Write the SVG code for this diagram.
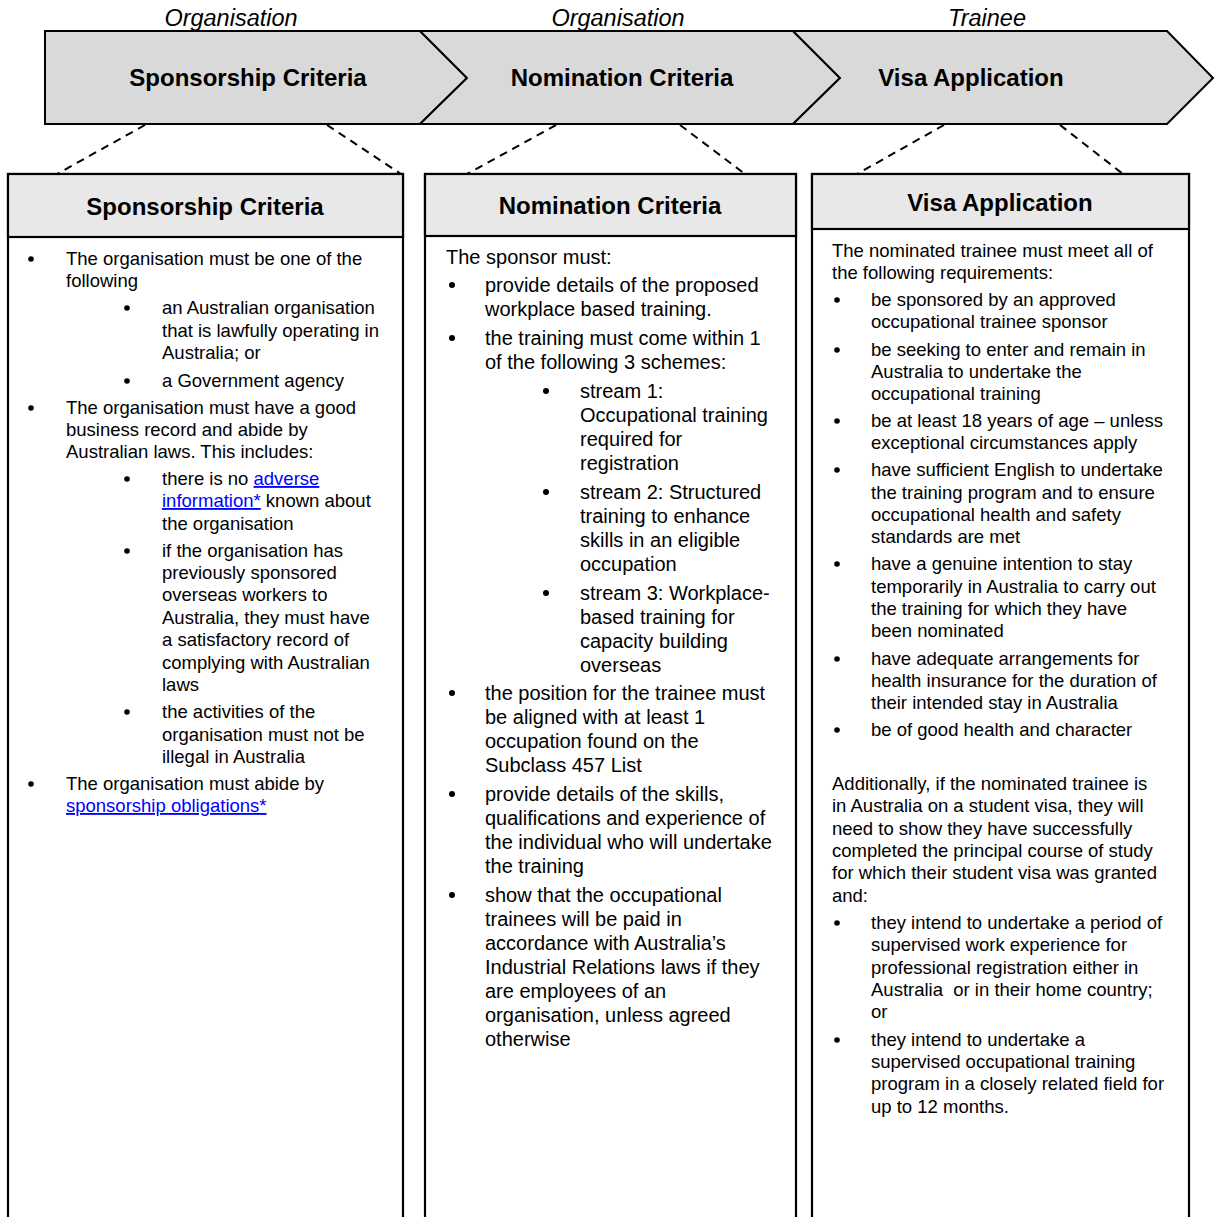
<svg xmlns="http://www.w3.org/2000/svg" width="1215" height="1217" viewBox="0 0 1215 1217">
<style>
.chev{fill:#d9d9d9;stroke:#000;stroke-width:2;stroke-linejoin:miter}
.box{fill:#fff;stroke:#000;stroke-width:2.2}
.hdr{fill:#e8e8e8;stroke:#000;stroke-width:2.2}
.role{font-family:"Liberation Sans",Arial,sans-serif;font-style:italic;font-size:23.5px;fill:#000;text-anchor:middle}
.title{font-family:"Liberation Sans",Arial,sans-serif;font-weight:bold;font-size:24px;fill:#000;text-anchor:middle}
.t1{font-family:"Liberation Sans",Arial,sans-serif;font-size:18.5px;fill:#000}
.t2{font-family:"Liberation Sans",Arial,sans-serif;font-size:20px;fill:#000}
.lk{fill:#0000ff;text-decoration:underline}
.dash{fill:none;stroke:#000;stroke-width:2;stroke-dasharray:8 6}
.dot{fill:#000}
</style>
<rect width="1215" height="1217" fill="#fff"/>

<g id="roles">
<text class="role" x="231" y="26">Organisation</text>
<text class="role" x="618" y="26">Organisation</text>
<text class="role" x="987" y="26">Trainee</text>
</g>

<g id="connectors">
<line class="dash" x1="145" y1="125" x2="57" y2="174"/>
<line class="dash" x1="327" y1="125" x2="401" y2="174"/>
<line class="dash" x1="556" y1="125" x2="467" y2="174"/>
<line class="dash" x1="680" y1="125" x2="745" y2="174"/>
<line class="dash" x1="944" y1="125" x2="857" y2="174"/>
<line class="dash" x1="1060" y1="125" x2="1123" y2="174"/>
</g>

<g id="chevron-sponsorship">
<polygon class="chev" points="45,31 420,31 467,78 420,124 45,124"/>
<text class="title" x="248" y="86">Sponsorship Criteria</text>
</g>
<g id="chevron-nomination">
<polygon class="chev" points="420,31 793,31 840,78 793,124 420,124 467,78"/>
<text class="title" x="622" y="86">Nomination Criteria</text>
</g>
<g id="chevron-visa">
<polygon class="chev" points="793,31 1167,31 1213,78 1167,124 793,124 840,78"/>
<text class="title" x="971" y="86">Visa Application</text>
</g>

<g id="box-sponsorship">
<rect class="box" x="8" y="174" width="395" height="1060"/>
<rect class="hdr" x="8" y="174" width="395" height="63"/>
<text class="title" x="205" y="215">Sponsorship Criteria</text>
<g class="t1">
<circle class="dot" cx="31" cy="259" r="2.8"/>
<text x="66" y="265">The organisation must be one of the</text>
<text x="66" y="287">following</text>
<circle class="dot" cx="127" cy="308" r="2.8"/>
<text x="162" y="314">an Australian organisation</text>
<text x="162" y="337">that is lawfully operating in</text>
<text x="162" y="359">Australia; or</text>
<circle class="dot" cx="127" cy="381" r="2.8"/>
<text x="162" y="387">a Government agency</text>
<circle class="dot" cx="31" cy="408" r="2.8"/>
<text x="66" y="414">The organisation must have a good</text>
<text x="66" y="436">business record and abide by</text>
<text x="66" y="458">Australian laws. This includes:</text>
<circle class="dot" cx="127" cy="479" r="2.8"/>
<text x="162" y="485">there is no <tspan class="lk">adverse</tspan></text>
<text x="162" y="507"><tspan class="lk">information*</tspan> known about</text>
<text x="162" y="530">the organisation</text>
<circle class="dot" cx="127" cy="551" r="2.8"/>
<text x="162" y="557">if the organisation has</text>
<text x="162" y="579">previously sponsored</text>
<text x="162" y="601">overseas workers to</text>
<text x="162" y="624">Australia, they must have</text>
<text x="162" y="646">a satisfactory record of</text>
<text x="162" y="669">complying with Australian</text>
<text x="162" y="691">laws</text>
<circle class="dot" cx="127" cy="712" r="2.8"/>
<text x="162" y="718">the activities of the</text>
<text x="162" y="741">organisation must not be</text>
<text x="162" y="763">illegal in Australia</text>
<circle class="dot" cx="31" cy="784" r="2.8"/>
<text x="66" y="790">The organisation must abide by</text>
<text x="66" y="812" class="lk">sponsorship obligations*</text>
</g>
</g>

<g id="box-nomination">
<rect class="box" x="425" y="174" width="371" height="1060"/>
<rect class="hdr" x="425" y="174" width="371" height="62"/>
<text class="title" x="610" y="214">Nomination Criteria</text>
<g class="t2">
<text x="446" y="264">The sponsor must:</text>
<circle class="dot" cx="452" cy="285" r="3"/>
<text x="485" y="292">provide details of the proposed</text>
<text x="485" y="316">workplace based training.</text>
<circle class="dot" cx="452" cy="338" r="3"/>
<text x="485" y="345">the training must come within 1</text>
<text x="485" y="369">of the following 3 schemes:</text>
<circle class="dot" cx="546" cy="391" r="3"/>
<text x="580" y="398">stream 1:</text>
<text x="580" y="422">Occupational training</text>
<text x="580" y="446">required for</text>
<text x="580" y="470">registration</text>
<circle class="dot" cx="546" cy="492" r="3"/>
<text x="580" y="499">stream 2: Structured</text>
<text x="580" y="523">training to enhance</text>
<text x="580" y="547">skills in an eligible</text>
<text x="580" y="571">occupation</text>
<circle class="dot" cx="546" cy="593" r="3"/>
<text x="580" y="600">stream 3: Workplace-</text>
<text x="580" y="624">based training for</text>
<text x="580" y="648">capacity building</text>
<text x="580" y="672">overseas</text>
<circle class="dot" cx="452" cy="693" r="3"/>
<text x="485" y="700">the position for the trainee must</text>
<text x="485" y="724">be aligned with at least 1</text>
<text x="485" y="748">occupation found on the</text>
<text x="485" y="772">Subclass 457 List</text>
<circle class="dot" cx="452" cy="794" r="3"/>
<text x="485" y="801">provide details of the skills,</text>
<text x="485" y="825">qualifications and experience of</text>
<text x="485" y="849">the individual who will undertake</text>
<text x="485" y="873">the training</text>
<circle class="dot" cx="452" cy="895" r="3"/>
<text x="485" y="902">show that the occupational</text>
<text x="485" y="926">trainees will be paid in</text>
<text x="485" y="950">accordance with Australia’s</text>
<text x="485" y="974">Industrial Relations laws if they</text>
<text x="485" y="998">are employees of an</text>
<text x="485" y="1022">organisation, unless agreed</text>
<text x="485" y="1046">otherwise</text>
</g>
</g>

<g id="box-visa">
<rect class="box" x="812" y="174" width="377" height="1060"/>
<rect class="hdr" x="812" y="174" width="377" height="55"/>
<text class="title" x="1000" y="211">Visa Application</text>
<g class="t1">
<text x="832" y="257">The nominated trainee must meet all of</text>
<text x="832" y="279">the following requirements:</text>
<circle class="dot" cx="837" cy="300" r="2.8"/>
<text x="871" y="306">be sponsored by an approved</text>
<text x="871" y="328">occupational trainee sponsor</text>
<circle class="dot" cx="837" cy="350" r="2.8"/>
<text x="871" y="356">be seeking to enter and remain in</text>
<text x="871" y="378">Australia to undertake the</text>
<text x="871" y="400">occupational training</text>
<circle class="dot" cx="837" cy="421" r="2.8"/>
<text x="871" y="427">be at least 18 years of age – unless</text>
<text x="871" y="449">exceptional circumstances apply</text>
<circle class="dot" cx="837" cy="470" r="2.8"/>
<text x="871" y="476">have sufficient English to undertake</text>
<text x="871" y="499">the training program and to ensure</text>
<text x="871" y="521">occupational health and safety</text>
<text x="871" y="543">standards are met</text>
<circle class="dot" cx="837" cy="564" r="2.8"/>
<text x="871" y="570">have a genuine intention to stay</text>
<text x="871" y="593">temporarily in Australia to carry out</text>
<text x="871" y="615">the training for which they have</text>
<text x="871" y="637">been nominated</text>
<circle class="dot" cx="837" cy="659" r="2.8"/>
<text x="871" y="665">have adequate arrangements for</text>
<text x="871" y="687">health insurance for the duration of</text>
<text x="871" y="709">their intended stay in Australia</text>
<circle class="dot" cx="837" cy="730" r="2.8"/>
<text x="871" y="736">be of good health and character</text>
<text x="832" y="790">Additionally, if the nominated trainee is</text>
<text x="832" y="812">in Australia on a student visa, they will</text>
<text x="832" y="835">need to show they have successfully</text>
<text x="832" y="857">completed the principal course of study</text>
<text x="832" y="879">for which their student visa was granted</text>
<text x="832" y="902">and:</text>
<circle class="dot" cx="837" cy="923" r="2.8"/>
<text x="871" y="929">they intend to undertake a period of</text>
<text x="871" y="951">supervised work experience for</text>
<text x="871" y="974">professional registration either in</text>
<text x="871" y="996" xml:space="preserve">Australia  or in their home country;</text>
<text x="871" y="1018">or</text>
<circle class="dot" cx="837" cy="1040" r="2.8"/>
<text x="871" y="1046">they intend to undertake a</text>
<text x="871" y="1068">supervised occupational training</text>
<text x="871" y="1090">program in a closely related field for</text>
<text x="871" y="1113">up to 12 months.</text>
</g>
</g>
</svg>
